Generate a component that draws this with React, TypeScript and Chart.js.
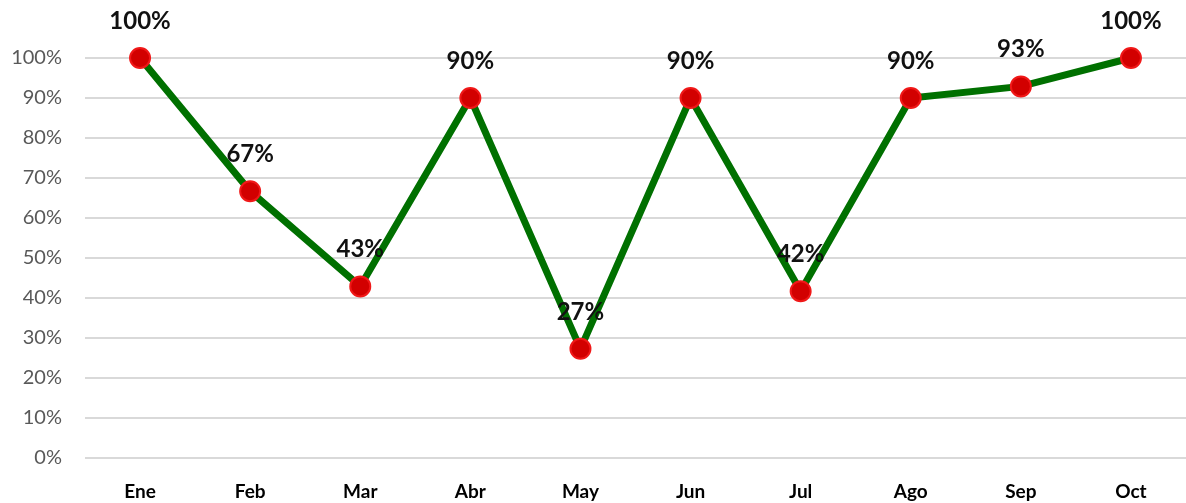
import React, { useEffect, useRef } from "react";
import { Chart, registerables } from "chart.js";

Chart.register(...registerables);

const categories = ["Ene", "Feb", "Mar", "Abr", "May", "Jun", "Jul", "Ago", "Sep", "Oct"];
const values = [100, 66.7, 42.9, 90, 27.3, 90, 41.7, 90, 92.9, 100];
const yTicks = [0, 10, 20, 30, 40, 50, 60, 70, 80, 90, 100];

const FONT = "Lato, 'Open Sans', sans-serif";

const dataLabelPlugin = {
  id: "dataLabels",
  afterDatasetsDraw(chart: any) {
    const ctx = chart.ctx;
    const meta = chart.getDatasetMeta(0);
    ctx.save();
    ctx.font = `bold 24px ${FONT}`;
    ctx.fillStyle = "#111111";
    ctx.textAlign = "center";
    ctx.textBaseline = "middle";
    meta.data.forEach((pt: any, i: number) => {
      ctx.fillText(`${Math.round(values[i])}%`, pt.x, pt.y - 37);
    });
    ctx.restore();
  },
};

export default function App() {
  const ref = useRef<HTMLCanvasElement>(null);
  useEffect(() => {
    if (!ref.current) return;
    const chart = new Chart(ref.current, {
      type: "line",
      data: {
        labels: categories,
        datasets: [
          {
            data: values,
            borderColor: "#007000",
            borderWidth: 7,
            pointRadius: 10,
            pointBackgroundColor: "#d20000",
            pointBorderColor: "#f01818",
            pointBorderWidth: 2,
            tension: 0,
            clip: false,
          } as any,
        ],
      },
      options: {
        animation: false,
        responsive: true,
        maintainAspectRatio: false,
        layout: { autoPadding: false, padding: { top: 58, right: 0, left: 0, bottom: 0 } },
        plugins: {
          legend: { display: false },
          tooltip: { enabled: false },
        },
        scales: {
          x: {
            offset: true,
            grid: { display: false, drawTicks: false },
            border: { display: false },
            ticks: {
              padding: 22,
              color: "#000000",
              font: { family: FONT, size: 19, weight: "bold" },
            },
            afterFit(scale: any) {
              scale.height = 45;
            },
          },
          y: {
            min: 0,
            max: 100,
            afterBuildTicks(scale: any) {
              scale.ticks = yTicks.map((v) => ({ value: v }));
            },
            grid: { color: "#d9d9d9", lineWidth: 2, drawTicks: false },
            border: { display: false },
            ticks: {
              padding: 23,
              color: "#595959",
              font: { family: FONT, size: 20 },
              callback: (v: any) => `${v}%`,
            },
            afterFit(scale: any) {
              scale.width = 85;
            },
          },
        },
      } as any,
      plugins: [dataLabelPlugin],
    });
    return () => chart.destroy();
  }, []);
  return (
    <div style={{ position: "fixed", left: 0, top: 0, width: 1186, height: 503, background: "#fff" }}>
      <canvas ref={ref} />
    </div>
  );
}
